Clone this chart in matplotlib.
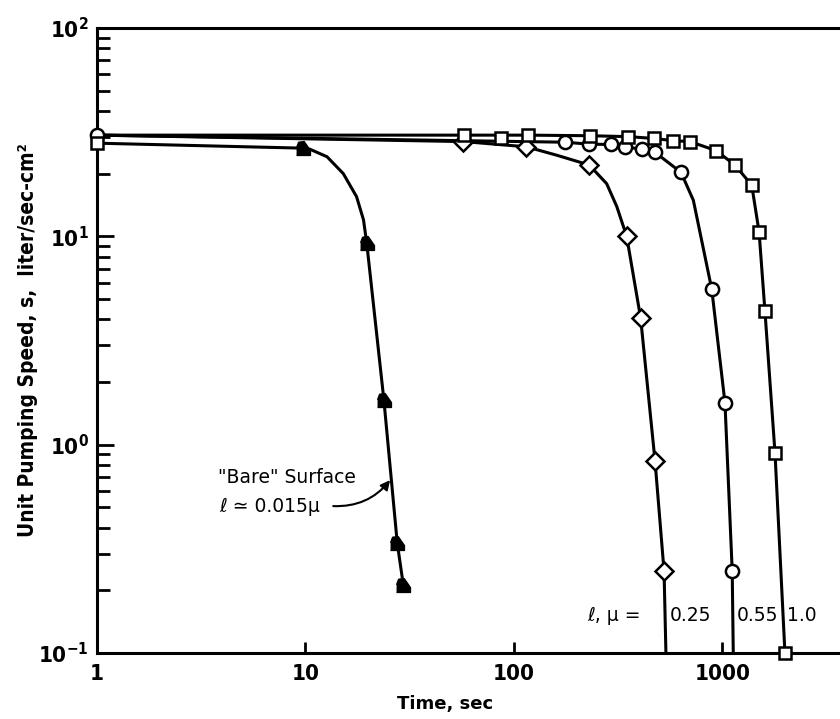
import matplotlib
matplotlib.use("Agg")
import matplotlib.pyplot as plt
from matplotlib.ticker import FixedLocator, FixedFormatter, LogLocator, NullLocator, NullFormatter

plt.rcParams['mathtext.fontset'] = 'custom'
plt.rcParams['mathtext.bf'] = 'DejaVu Sans:weight=bold:stretch=condensed'
plt.rcParams['mathtext.rm'] = 'DejaVu Sans:stretch=condensed'

# --- data ---
# "Bare" surface (filled markers)
bare_t = [9.74, 19.7, 23.8, 27.6, 29.5]
bare_s = [26.5, 9.25, 1.64, 0.336, 0.212]
bare_curve_t = [1, 9.74, 10.5, 12.7, 15.2, 17.6, 19.0, 19.7, 23.8, 27.6, 29.5]
bare_curve_s = [28.0, 26.5, 26.2, 24.1, 20.0, 15.5, 12.0, 9.25, 1.64, 0.336, 0.212]

# l = 0.25 micron (diamonds)
dia_t = [57.3, 115, 230, 348, 406, 476, 526]
dia_s = [28.5, 26.9, 22.0, 10.0, 4.06, 0.837, 0.247]
dia_curve_t = [1, 57.3, 115, 161, 230, 279, 312, 348, 406, 476, 526, 537]
dia_curve_s = [30.6, 28.5, 26.9, 24.5, 22.0, 17.9, 13.9, 10.0, 4.06, 0.837, 0.247, 0.1]

# l = 0.55 micron (circles)
cir_t = [1, 176, 230, 292, 342, 411, 476, 634, 891, 1031, 1117]
cir_s = [30.6, 28.3, 27.7, 27.6, 26.9, 26.2, 25.3, 20.3, 5.57, 1.59, 0.248]
cir_curve_t = [1, 176, 230, 292, 342, 411, 476, 634, 727, 891, 1031, 1117, 1130]
cir_curve_s = [30.6, 28.3, 27.7, 27.6, 26.9, 26.2, 25.3, 20.3, 14.9, 5.57, 1.59, 0.248, 0.1]

# l = 1.0 micron (squares)
sq_t = [1, 57.9, 86.8, 117, 232, 354, 471, 579, 700, 934, 1151, 1386, 1503, 1603, 1792, 2000]
sq_s = [28.0, 30.6, 29.5, 30.6, 30.4, 30.1, 29.5, 28.8, 28.5, 25.8, 22.0, 17.6, 10.5, 4.40, 0.914, 0.1]
sq_curve_t = [1, 57.9, 117, 232, 354, 471, 579, 700, 934, 1151, 1386, 1503, 1603, 1792, 2000]
sq_curve_s = [30.6, 30.6, 30.6, 30.4, 30.1, 29.5, 28.8, 28.5, 25.8, 22.0, 17.6, 10.5, 4.40, 0.914, 0.1]

x_ticks = [1, 10, 100, 1000]
x_labels = ['1', '10', '100', '1000']
y_ticks = [0.1, 1, 10, 100]
y_labels = [r'$\mathbf{10^{-1}}$', r'$\mathbf{10^{0}}$', r'$\mathbf{10^{1}}$', r'$\mathbf{10^{2}}$']

fig = plt.figure(figsize=(8.4, 7.19), dpi=100)
ax = fig.add_axes([97 / 840, 1 - 653 / 719, 1 - 97 / 840, 625 / 719])

lw = 2.2
ax.plot(bare_curve_t, bare_curve_s, color='k', lw=lw, clip_on=False, zorder=3)
ax.plot(dia_curve_t, dia_curve_s, color='k', lw=lw, clip_on=False, zorder=3)
ax.plot(cir_curve_t, cir_curve_s, color='k', lw=lw, clip_on=False, zorder=3)
ax.plot(sq_curve_t, sq_curve_s, color='k', lw=lw, clip_on=False, zorder=3)

blob = [(-1, -1), (1, -1), (1, -0.3), (0.1, 1), (-0.7, 0.9), (-1, 0.1)]
ax.plot(bare_t, bare_s, ls='none', marker=blob, ms=10, color='k', clip_on=False, zorder=4)
mk = dict(ls='none', mfc='white', mec='k', mew=1.8, clip_on=False, zorder=4)
ax.plot(dia_t, dia_s, marker='D', ms=9, **mk)
ax.plot(cir_t, cir_s, marker='o', ms=9.5, **mk)
ax.plot(sq_t, sq_s, marker='s', ms=9, **mk)

ax.set_xscale('log')
ax.set_yscale('log')
ax.set_xlim(1, 3675)
ax.set_ylim(0.1, 100)

ax.xaxis.set_major_locator(FixedLocator(x_ticks))
ax.xaxis.set_major_formatter(FixedFormatter(x_labels))
ax.xaxis.set_minor_locator(NullLocator())
ax.yaxis.set_major_locator(FixedLocator(y_ticks))
ax.yaxis.set_major_formatter(FixedFormatter(y_labels))
ax.yaxis.set_minor_locator(LogLocator(base=10, subs=range(2, 10)))
ax.yaxis.set_minor_formatter(NullFormatter())

ax.tick_params(axis='both', which='both', direction='in', width=2, top=False, right=False)
ax.tick_params(axis='y', which='major', length=12, pad=6)
ax.tick_params(axis='y', which='minor', length=9)
ax.tick_params(axis='x', which='major', length=8, pad=8)
for lab in ax.get_xticklabels():
    lab.set_fontfamily('DejaVu Sans')
    lab.set_fontstretch('condensed')
    lab.set_fontweight('bold')
    lab.set_fontsize(16)
for lab in ax.get_yticklabels():
    lab.set_fontsize(16)

for side in ['left', 'bottom', 'top']:
    ax.spines[side].set_linewidth(2.2)
ax.spines['right'].set_visible(False)

ax.set_xlabel('Time, sec', fontsize=13, fontweight='bold', family='DejaVu Sans')
ax.xaxis.set_label_coords(0.468, -0.068)
ax.set_ylabel('Unit Pumping Speed, s,  liter/sec-cm²', fontsize=15, fontweight='bold',
              family='DejaVu Sans', fontstretch='condensed')
ax.yaxis.set_label_coords(-0.079, 0.5)

# annotations
txt = dict(fontsize=13.5, family='DejaVu Sans', va='center', ha='left')
ax.text(3.8, 0.695, '"Bare" Surface', **txt)
ax.text(3.85, 0.507, 'ℓ ≃ 0.015μ', **txt)
ax.annotate('', xy=(25.5, 0.676), xytext=(13.6, 0.507),
            arrowprops=dict(arrowstyle='-|>', connectionstyle='arc3,rad=0.25',
                            lw=1.5, color='k', mutation_scale=14, shrinkA=0, shrinkB=0))
ax.text(224, 0.152, 'ℓ, μ =', **txt)
ax.text(562, 0.152, '0.25', **txt)
ax.text(1178, 0.152, '0.55', **txt)
ax.text(2046, 0.152, '1.0', **txt)

fig.savefig('out.png', dpi=100)
